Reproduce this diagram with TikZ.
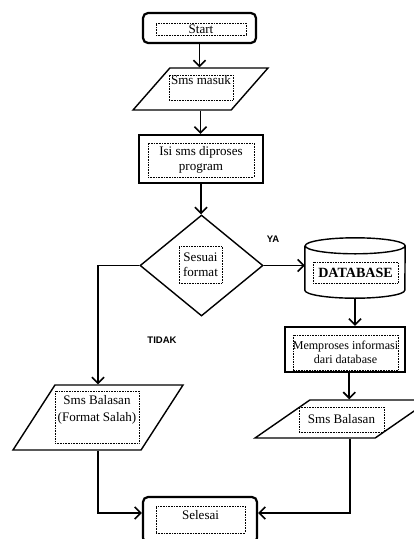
\documentclass[tikz,border=0pt]{standalone}
\usepackage{fontspec}
\setmainfont{Liberation Serif}
\newfontfamily\labelfont{Liberation Sans}
\usetikzlibrary{shapes.geometric,arrows.meta}

\begin{document}
\begin{tikzpicture}[
  boxline/.style={draw, line width=1.4pt, inner sep=1pt},
  thickbox/.style={boxline, line width=2.2pt},
  slanted/.style={boxline, trapezium, trapezium stretches=true},
  txtbox/.style={draw, densely dotted, line width=0.6pt, inner sep=0pt, align=center, font=\fontsize{13}{15}\selectfont},
  flow/.style={line width=1.6pt, -{Straight Barb[length=6pt,width=12pt,line width=1.6pt]}},
  lbl/.style={font=\labelfont\bfseries\fontsize{9.5}{11}\selectfont}
]
\useasboundingbox (0,0) rectangle (14.490,-18.865);
\node[thickbox, rounded corners=5pt, minimum width=3.955cm, minimum height=1.050cm] (start) at (6.983,-0.980) {};
\node[txtbox, minimum width=3.150cm, minimum height=0.420cm] (start-txt) at (7.035,-1.015) {Start};
\node[slanted, trapezium left angle=59, trapezium right angle=121, minimum width=4.725cm, minimum height=1.470cm] (masuk) at (7.018,-3.115) {};
\node[txtbox, minimum width=2.240cm, minimum height=0.875cm] (masuk-txt) at (7.035,-3.063) {Sms masuk\\~};
\node[thickbox, minimum width=4.340cm, minimum height=1.680cm] (proses) at (7.035,-5.565) {};
\node[txtbox, minimum width=3.710cm, minimum height=1.190cm] (proses-txt) at (7.035,-5.600) {Isi sms diproses\\program};
\node[boxline, diamond, minimum width=4.305cm, minimum height=3.535cm] (sesuai) at (7.053,-9.293) {};
\node[txtbox, minimum width=1.505cm, minimum height=1.295cm] (sesuai-txt) at (7.018,-9.258) {Sesuai\\format};
\node[inner sep=0pt, minimum width=3.500cm, minimum height=2.100cm] (db) at (12.425,-9.380) {};
\draw[line width=1.4pt] ([yshift=-0.280cm]db.north west) -- ([yshift=0.280cm]db.south west)
  arc[start angle=180, end angle=360, x radius=1.750cm, y radius=0.280cm]
  -- ([yshift=-0.280cm]db.north east)
  arc[start angle=0, end angle=360, x radius=1.750cm, y radius=0.280cm];
\node[txtbox, minimum width=2.975cm, minimum height=0.735cm, font=\bfseries\fontsize{14}{16}\selectfont] (db-txt) at (12.443,-9.538) {DATABASE};
\node[thickbox, minimum width=4.200cm, minimum height=1.575cm] (informasi) at (12.075,-12.233) {};
\node[txtbox, minimum width=3.675cm, minimum height=1.225cm, font=\fontsize{12}{14}\selectfont] (informasi-txt) at (12.093,-12.338) {Memproses informasi\\dari database};
\node[slanted, trapezium left angle=50, trapezium right angle=130, minimum width=6.125cm, minimum height=1.330cm] (balasan) at (11.988,-14.665) {};
\node[txtbox, minimum width=2.975cm, minimum height=0.875cm] (balasan-txt) at (11.953,-14.683) {Sms Balasan};
\node[slanted, trapezium left angle=64, trapezium right angle=116, minimum width=5.950cm, minimum height=2.275cm] (salah) at (3.430,-14.613) {};
\node[txtbox, minimum width=2.940cm, minimum height=1.820cm, font=\fontsize{13}{17}\selectfont] (salah-txt) at (3.395,-14.595) {Sms Balasan\\(Format Salah)\\~};
\node[thickbox, rounded corners=5pt, minimum width=3.990cm, minimum height=1.610cm] (selesai) at (7.000,-18.200) {};
\node[txtbox, minimum width=3.115cm, minimum height=0.945cm] (selesai-txt) at (7.018,-18.183) {Selesai\\[-6pt]~};
\node[lbl] (ya) at (9.555,-8.365) {YA};
\node[lbl] (tidak) at (5.670,-11.900) {TIDAK};
\draw[flow] (start) -- (start |- masuk.north);
\draw[flow] (masuk) -- (masuk |- proses.north);
\draw[flow] (proses) -- (proses |- sesuai.north);
\draw[flow] (sesuai.east) -- (sesuai.east -| db.west);
\draw[flow] (db) -- (db |- informasi.north);
\draw[flow] ([xshift=0.150cm]informasi.south) -- ([xshift=0.150cm]informasi.south |- balasan.north);
\draw[flow] (sesuai.west) -| (salah.north);
\draw[flow] (salah.south) |- ([yshift=0.245cm]selesai.west);
\draw[flow] ([xshift=0.262cm]balasan.south) |- ([yshift=0.245cm]selesai.east);
\end{tikzpicture}
\end{document}
